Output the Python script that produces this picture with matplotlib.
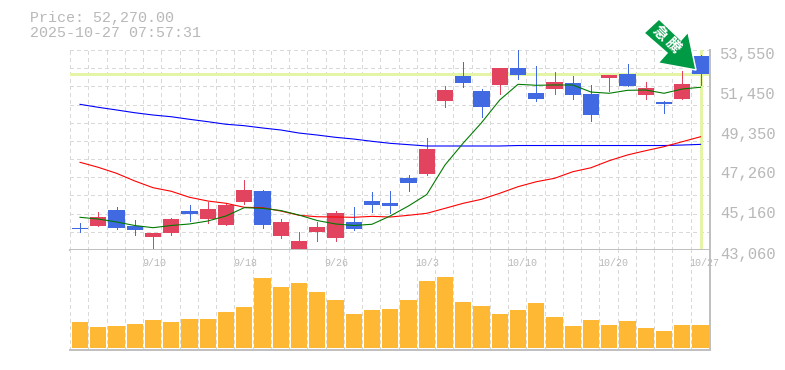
import matplotlib
matplotlib.use('Agg')
import matplotlib.pyplot as plt
from matplotlib.patches import Polygon, Rectangle
from matplotlib.transforms import IdentityTransform
import numpy as np

plt.rcParams['font.family'] = ['Liberation Mono', 'Noto Sans CJK JP', 'DejaVu Sans']

W, H = 785, 370
PX = 0.72  # one pixel in points at dpi=100

opens = [44215, 44320, 45160, 44320, 43740, 43950, 45105, 44685, 44370, 45580, 46155, 43795,
         43110, 44005, 43690, 44530, 45630, 45525, 46835, 47045, 50875, 52185, 51400, 51715,
         52605, 51295, 51505, 51820, 51240, 52080, 52290, 51190, 50825, 50980, 53235]
closes = [44160, 44790, 44215, 44110, 43950, 44685, 44950, 45210, 45420, 46205, 44370, 44530,
          43530, 44265, 45000, 44160, 45420, 45370, 46575, 48360, 51450, 51820, 50560, 52605,
          52240, 50980, 51870, 51190, 50140, 52240, 51660, 51555, 50720, 51765, 52270]
highs = [44475, 45055, 45315, 44635, 43950, 44740, 45420, 45580, 45525, 46730, 46205, 44685,
         44005, 44530, 45105, 45315, 46100, 46155, 46995, 48935, 51660, 52920, 51505, 52605,
         53550, 52710, 52395, 52185, 51715, 52240, 52815, 51870, 50875, 52450, 53290]
lows = [44005, 44320, 44160, 43845, 43110, 43845, 44580, 44475, 44370, 45475, 44215, 43690,
        43010, 43530, 43530, 44110, 45055, 45000, 46155, 46995, 50560, 51610, 50035, 51240,
        52030, 50875, 51240, 50980, 49830, 51400, 51660, 50980, 50245, 50980, 51715]
ma_short = [44775, 44685, 44530, 44345, 44230, 44345, 44425, 44580, 44845, 45280, 45245, 45130,
            44895, 44605, 44425, 44345, 44410, 44845, 45370, 45970, 47520, 48670, 49735, 50930,
            51750, 51700, 51715, 51715, 51345, 51280, 51435, 51450, 51280, 51505, 51595]
ma_mid = [47660, 47397, 47083, 46680, 46328, 46140, 45825, 45630, 45510, 45300, 45280, 45105,
          44880, 44805, 44790, 44775, 44825, 44790, 44880, 44985, 45245, 45510, 45720, 46035,
          46380, 46640, 46820, 47165, 47375, 47745, 48045, 48270, 48480, 48740, 49000]
ma_long = [50700, 50545, 50405, 50260, 50140, 50050, 49915, 49790, 49655, 49580, 49460, 49355,
           49195, 49090, 48970, 48880, 48760, 48655, 48585, 48515, 48515, 48515, 48515, 48515,
           48540, 48540, 48540, 48540, 48540, 48540, 48540, 48540, 48540, 48565, 48600]
volumes = [263, 213, 223, 243, 283, 263, 293, 293, 363, 413, 703, 613, 653, 563, 483, 343, 383, 393,
           483, 673, 713, 463, 423, 343, 383, 453, 313, 223, 283, 233, 273, 203, 173, 233, 233]

price_ticks = [43060, 45160, 47260, 49350, 51450, 53550]
price_labels = ['43,060', '45,160', '47,260', '49,350', '51,450', '53,550']
date_pos = [4, 9, 14, 19, 24, 29, 34]
date_labels = ['9/10', '9/18', '9/26', '10/3', '10/10', '10/20', '10/27']
last_price = 52270

RED = '#e2445f'
BLUE = '#4169e1'
GRID = '#d9d9d9'
AXIS = '#c0c0c0'
TXT = '#b8b8b8'
HL = '#e4f5a8'
ORANGE = '#ffb833'
ARROW = '#009a44'

fig = plt.figure(figsize=(W / 100, H / 100), dpi=100)
ax = fig.add_axes([70 / W, 1 - 250 / H, 640 / W, 200 / H])
vax = fig.add_axes([70 / W, 1 - 350 / H, 640 / W, 100 / H])

x = np.arange(len(opens))
xmin, xmax = -0.548, 34.52
grid_x = xmin + np.arange(36)
grid_y = np.linspace(43060, 53550, 12)

for a in (ax, vax):
    a.set_xlim(xmin, xmax)
    for s in a.spines.values():
        s.set_visible(False)
    a.tick_params(length=0)
    a.set_xticks([])
    a.set_yticks([])
    for gx in grid_x:
        a.axvline(gx, color=GRID, lw=PX, dashes=(3, 3), antialiased=False, zorder=1)
ax.set_ylim(43060, 53550)
vax.set_ylim(-17, 983)

for gy in grid_y:
    ax.axhline(gy, color=GRID, lw=PX, dashes=(3, 3), antialiased=False, zorder=1)

# last price markers
ax.axhline(last_price, color=HL, lw=3 * PX, zorder=2)
ax.axvline(x[-1], color=HL, lw=3 * PX, zorder=2)

# candles
for i in x:
    col = RED if closes[i] >= opens[i] else BLUE
    ax.vlines(i, lows[i], highs[i], color=col, lw=PX, zorder=3, antialiased=False, clip_on=False)
    lo, hi = min(opens[i], closes[i]), max(opens[i], closes[i])
    ax.add_patch(Rectangle((i - 0.44, lo), 0.88, hi - lo, fc=col, ec='none', zorder=3, antialiased=False))

# moving averages
ax.plot(x, ma_long, color='#0000ff', lw=1.1 * PX, zorder=4)
ax.plot(x, ma_mid, color='#ff0000', lw=1.1 * PX, zorder=4)
ax.plot(x, ma_short, color='#007a00', lw=1.1 * PX, zorder=4)

# volume
vax.bar(x, volumes, width=0.88, color=ORANGE, zorder=3, antialiased=False)

# frame
ax.axhline(43060, color=AXIS, lw=2 * PX, zorder=5, clip_on=False)
vax.axhline(-17, color=AXIS, lw=2 * PX, zorder=5, clip_on=False)
for a in (ax, vax):
    a.axvline(xmax, color=AXIS, lw=2 * PX, zorder=5, clip_on=False)

# price labels right of the plot
for p, lab in zip(price_ticks, price_labels):
    ax.annotate(lab, xy=(xmax, p), xytext=(10 * PX, -4 * PX), textcoords='offset points',
                color=TXT, fontsize=15.5 * PX, ha='left', va='center', annotation_clip=False)

# date labels under the price panel, they start a little left of their candle
for d, lab in zip(date_pos, date_labels):
    vax.annotate(lab, xy=(d, 983), xytext=(-11 * PX, -13 * PX), textcoords='offset points',
                 color=TXT, fontsize=10 * PX, ha='left', va='center', annotation_clip=False, zorder=6)

fig.text(30 / W, 1 - 18 / H, 'Price: 52,270.00', color=TXT, fontsize=15 * PX, va='center')
fig.text(30 / W, 1 - 33 / H, '2025-10-27 07:57:31', color=TXT, fontsize=15 * PX, va='center')

# arrow badge, placed in pixels
outline = [(644, 33), (659, 19), (681, 40), (688, 32), (696, 70), (658, 63), (667, 53)]
fig.add_artist(Polygon([(px, H - py) for px, py in outline], closed=True, fc=ARROW, ec='white', lw=1.5 * PX,
                       transform=IdentityTransform(), zorder=10))
fig.text(659 / W, 1 - 34 / H, '急', color='white', fontsize=15 * PX, fontweight='bold',
         rotation=-45, ha='center', va='center', zorder=11)
fig.text(672 / W, 1 - 46 / H, '騰', color='white', fontsize=15 * PX, fontweight='bold',
         rotation=-45, ha='center', va='center', zorder=11)

fig.savefig('out.png', dpi=100)
